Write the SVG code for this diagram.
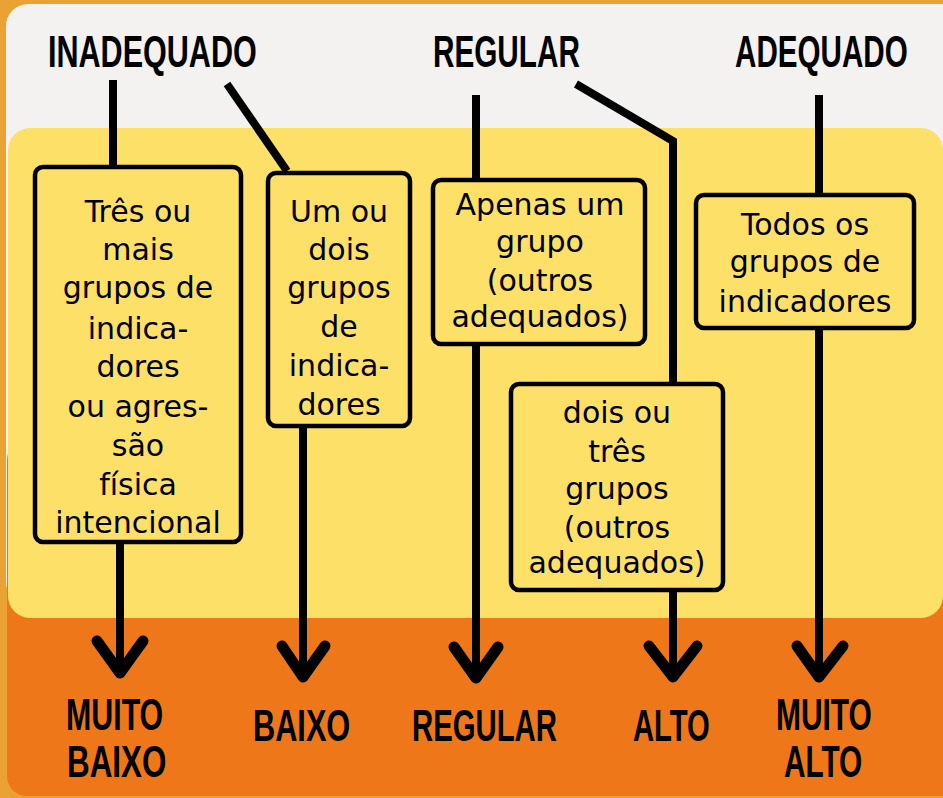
<svg xmlns="http://www.w3.org/2000/svg" width="943" height="798" viewBox="0 0 943 798">
<style>
.box{fill:#FDE068;stroke:#000;stroke-width:4.5}
.body{font-family:"DejaVu Sans","Open Sans",sans-serif;font-size:30px;fill:#000;text-anchor:middle}
.head{font-family:"Liberation Sans","DejaVu Sans",sans-serif;font-weight:bold;font-size:44px;fill:#000}
.shaft{stroke:#000;stroke-width:8;fill:none}
.head-arrow{stroke:#000;stroke-width:11;fill:none;stroke-linecap:round;stroke-linejoin:round}
</style>
<rect x="0" y="0" width="943" height="798" fill="#E9A233"/>
<rect x="6" y="4" width="960" height="600" rx="22" fill="#F3F2F1"/>
<rect x="7" y="440" width="960" height="356" rx="20" fill="#EE7719"/>
<rect x="8" y="128" width="935" height="490" rx="22" fill="#FDE068"/>

<g id="headings">
<text class="head" transform="translate(48,67) scale(0.68,1)" textLength="307" lengthAdjust="spacingAndGlyphs">INADEQUADO</text>
<text class="head" transform="translate(433,67) scale(0.68,1)" textLength="216" lengthAdjust="spacingAndGlyphs">REGULAR</text>
<text class="head" transform="translate(735,67) scale(0.68,1)" textLength="254" lengthAdjust="spacingAndGlyphs">ADEQUADO</text>
</g>

<g id="connectors">
<line class="shaft" x1="113" y1="80" x2="113" y2="166"/>
<line class="shaft" x1="227" y1="84" x2="287" y2="171"/>
<line class="shaft" x1="476" y1="95" x2="476" y2="180"/>
<polyline class="shaft" points="576,84 673,141 673,383"/>
<line class="shaft" x1="819" y1="95" x2="819" y2="195"/>
<line class="shaft" x1="120" y1="543" x2="120" y2="672"/>
<polyline class="head-arrow" points="97,641 120,673 143,641"/>
<line class="shaft" x1="303" y1="427" x2="303" y2="676"/>
<polyline class="head-arrow" points="282,646 303,677 325,646"/>
<line class="shaft" x1="476" y1="345" x2="476" y2="678"/>
<polyline class="head-arrow" points="454,647 476,678 498,647"/>
<line class="shaft" x1="673" y1="591" x2="673" y2="676"/>
<polyline class="head-arrow" points="649,646 673,677 697,646"/>
<line class="shaft" x1="819" y1="328" x2="819" y2="676"/>
<polyline class="head-arrow" points="797,646 819,677 843,646"/>
</g>

<g id="nodeA">
<rect class="box" x="35" y="167" width="206" height="375" rx="8"/>
<text class="body"><tspan x="138" y="222">Três ou</tspan><tspan x="138" y="260">mais</tspan><tspan x="138" y="298">grupos de</tspan><tspan x="138" y="339">indica-</tspan><tspan x="138" y="377">dores</tspan><tspan x="138" y="417">ou agres-</tspan><tspan x="138" y="456">são</tspan><tspan x="138" y="495">física</tspan><tspan x="138" y="533">intencional</tspan></text>
</g>

<g id="nodeB">
<rect class="box" x="268" y="173" width="142" height="253" rx="8"/>
<text class="body"><tspan x="339" y="222">Um ou</tspan><tspan x="339" y="260">dois</tspan><tspan x="339" y="298">grupos</tspan><tspan x="339" y="337">de</tspan><tspan x="339" y="376">indica-</tspan><tspan x="339" y="415">dores</tspan></text>
</g>

<g id="nodeC">
<rect class="box" x="433" y="180" width="212" height="164" rx="8"/>
<text class="body"><tspan x="540" y="215">Apenas um</tspan><tspan x="540" y="252">grupo</tspan><tspan x="540" y="291">(outros</tspan><tspan x="540" y="327">adequados)</tspan></text>
</g>

<g id="nodeD">
<rect class="box" x="511" y="384" width="212" height="206" rx="8"/>
<text class="body"><tspan x="617" y="423">dois ou</tspan><tspan x="617" y="462">três</tspan><tspan x="617" y="499">grupos</tspan><tspan x="617" y="538">(outros</tspan><tspan x="617" y="573">adequados)</tspan></text>
</g>

<g id="nodeE">
<rect class="box" x="696" y="195" width="218" height="133" rx="8"/>
<text class="body"><tspan x="805" y="235">Todos os</tspan><tspan x="805" y="272">grupos de</tspan><tspan x="805" y="312">indicadores</tspan></text>
</g>

<g id="outcomes">
<text class="head" transform="translate(66,730) scale(0.68,1)" textLength="143" lengthAdjust="spacingAndGlyphs">MUITO</text>
<text class="head" transform="translate(67,777) scale(0.68,1)" textLength="146" lengthAdjust="spacingAndGlyphs">BAIXO</text>
<text class="head" transform="translate(253,741) scale(0.68,1)" textLength="143" lengthAdjust="spacingAndGlyphs">BAIXO</text>
<text class="head" transform="translate(412,741) scale(0.68,1)" textLength="213" lengthAdjust="spacingAndGlyphs">REGULAR</text>
<text class="head" transform="translate(633,741) scale(0.68,1)" textLength="113" lengthAdjust="spacingAndGlyphs">ALTO</text>
<text class="head" transform="translate(776,730) scale(0.68,1)" textLength="141" lengthAdjust="spacingAndGlyphs">MUITO</text>
<text class="head" transform="translate(784,777) scale(0.68,1)" textLength="115" lengthAdjust="spacingAndGlyphs">ALTO</text>
</g>
</svg>
